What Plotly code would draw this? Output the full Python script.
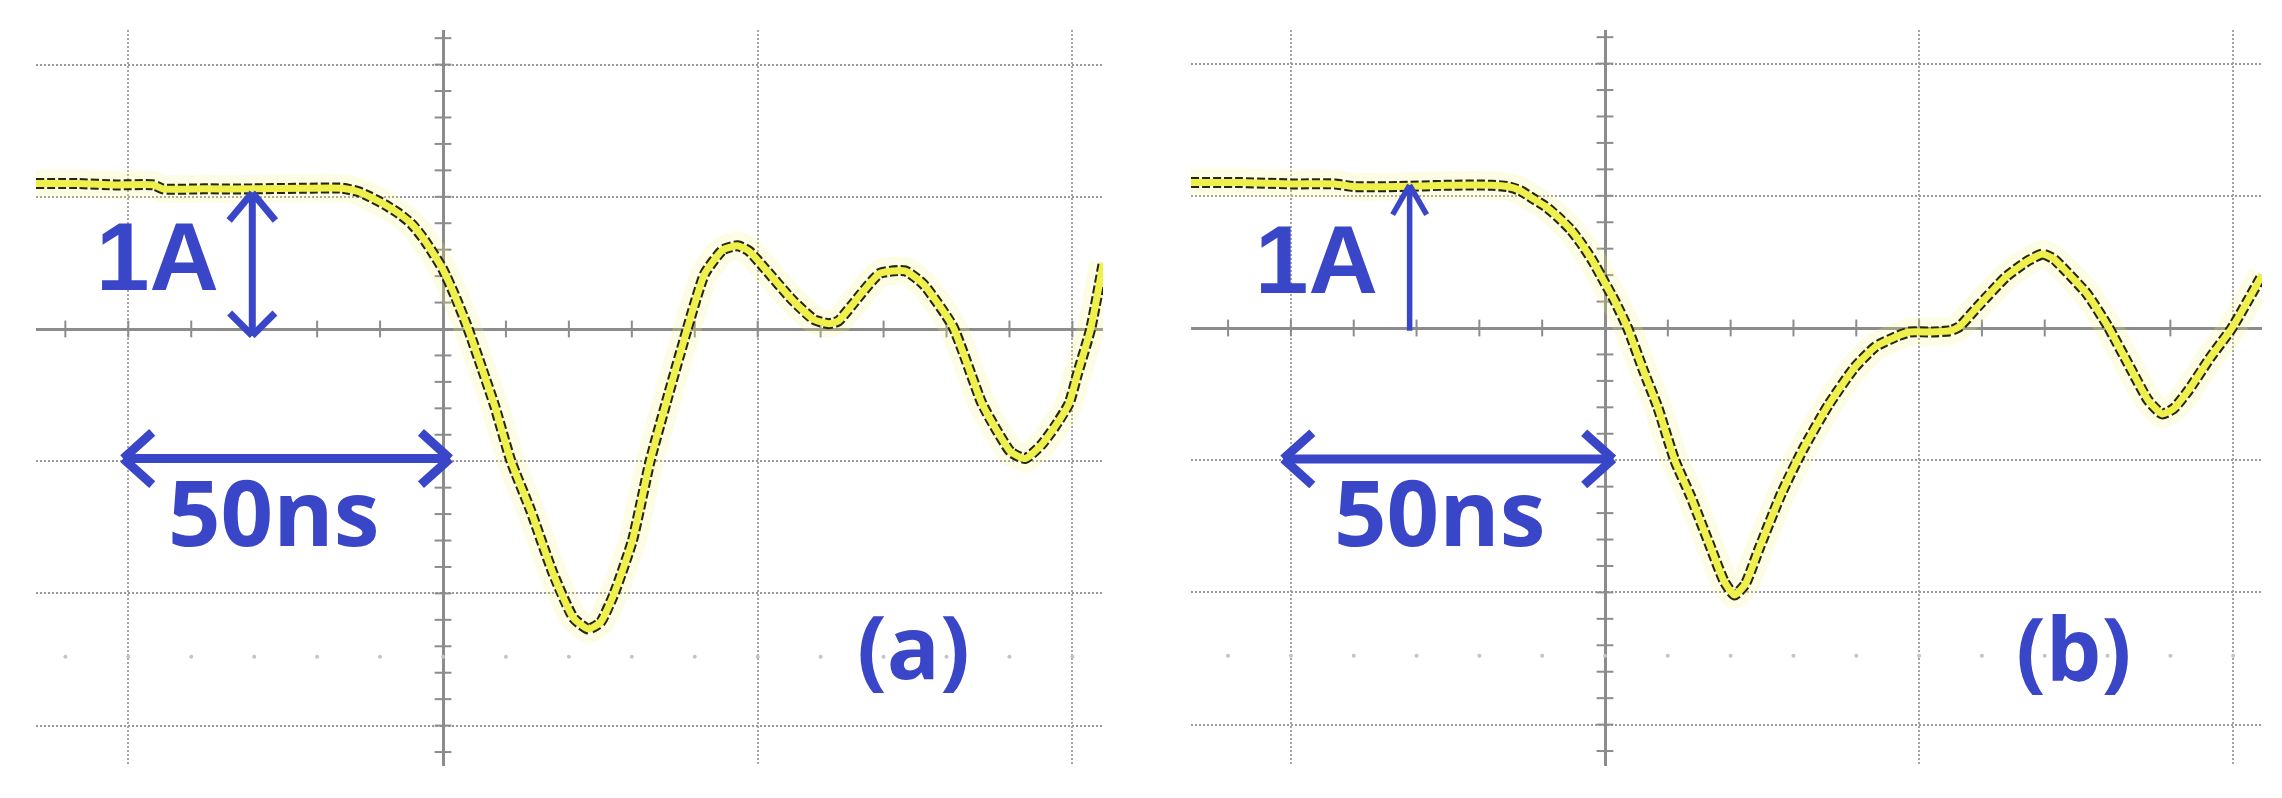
import math
import plotly.graph_objects as go

# ---------------- data ----------------
# Panel (a) waveform: time in ns (0 = centre graticule), current in A
a_time_ns = [-64.7, -58, -52, -46, -44.5, -38, -30, -22, -16, -13.5, -11.6, -9.2, -6.9,
             -4.9, -2.9, -1.4, 0.0, 2.0, 4.0, 6.2, 8.2, 10.8, 13.9, 17.5, 20.8, 23.1,
             25.0, 27.2, 30.1, 32.9, 35.5, 38.8, 41.6, 44.5, 46.8, 48.6, 50.9, 55.5,
             59.0, 61.3, 62.8, 64.8, 69.4, 73.4, 76.3, 81.0, 85.6, 87.9, 90.2, 92.5,
             95.0, 97.2, 99.5, 100.8, 102.9, 104.9]
a_current_A = [1.10, 1.10, 1.09, 1.09, 1.06, 1.06, 1.06, 1.065, 1.065, 1.04, 1.00, 0.94, 0.87,
               0.79, 0.67, 0.56, 0.45, 0.24, 0.00, -0.30, -0.58, -1.00, -1.37, -1.85, -2.19, -2.27,
               -2.22, -2.00, -1.60, -1.00, -0.55, 0.00, 0.42, 0.60, 0.63, 0.59, 0.47, 0.22,
               0.07, 0.04, 0.06, 0.17, 0.42, 0.44, 0.34, 0.02, -0.56, -0.76, -0.93, -0.98,
               -0.88, -0.74, -0.56, -0.34, 0.00, 0.50]

# Panel (b) waveform
b_time_ns = [-65.9, -58, -50, -43, -40, -33, -25, -18, -15.5, -13.5, -11.5, -9.5, -7.5,
             -5.4, -3.5, -2.0, 0.0, 1.6, 3.6, 6.1, 8.4, 11.1, 13.6, 16.5, 19.0, 20.6,
             22.3, 24.6, 28.1, 31.5, 35.6, 39.7, 43.1, 46.6, 48.5, 52.0, 55.0, 56.4,
             59.3, 63.9, 67.4, 69.7, 71.5, 73.2, 76.7, 80.1, 83.6, 86.5, 88.7, 90.5,
             92.9, 96.4, 99.8, 104.6]
b_current_A = [1.10, 1.10, 1.09, 1.09, 1.07, 1.07, 1.08, 1.08, 1.07, 1.04, 0.98, 0.92, 0.84,
               0.74, 0.62, 0.51, 0.34, 0.20, 0.00, -0.32, -0.60, -1.00, -1.27, -1.62, -1.92, -2.02,
               -1.94, -1.66, -1.25, -0.92, -0.58, -0.30, -0.14, -0.06, -0.03, -0.03, -0.02, 0.01,
               0.16, 0.39, 0.51, 0.56, 0.52, 0.44, 0.26, 0.01, -0.30, -0.55, -0.65, -0.61,
               -0.47, -0.22, 0.00, 0.40]

# graticule
major_time_ns = [-50, 0, 50, 100]
major_current_A = [-3, -2, -1, 0, 1, 2]
minor_time_ns = [-60, -50, -40, -30, -20, -10, 0, 10, 20, 30, 40, 50, 60, 70, 80, 90, 100]
minor_current_A = [-3.2, -3.0, -2.8, -2.6, -2.4, -2.2, -2.0, -1.8, -1.6, -1.4, -1.2, -1.0,
                   -0.8, -0.6, -0.4, -0.2, 0.0, 0.2, 0.4, 0.6, 0.8, 1.0, 1.2, 1.4, 1.6,
                   1.8, 2.0, 2.2]
ghost_row_A = -2.48

# scale markers (in data units)
panel_labels = ["(a)", "(b)"]
current_label = "1A"
time_label = "50ns"
a_vert_arrow = dict(x=-30.3, y0=-0.05, y1=1.03, double=True)
b_vert_arrow = dict(x=-31.1, y0=-0.02, y1=1.08, double=False)
a_horiz_arrow = dict(y=-0.98, x0=-50.8, x1=1.1)
b_horiz_arrow = dict(y=-0.99, x0=-51.2, x1=1.3)

# ---------------- layout geometry ----------------
W, H = 2282, 798
BLUE = "#3A46C8"
panels = {
    "a": dict(px=(28, 1095), py=(22, 758), x0=435, y0=321, sx=314.7 / 50, sy=132.2),
    "b": dict(px=(1183, 2254), py=(22, 758), x0=1597, y0=320, sx=314.1 / 50, sy=132.2),
}
for p in panels.values():
    p["xr"] = [(p["px"][0] - p["x0"]) / p["sx"], (p["px"][1] - p["x0"]) / p["sx"]]
    p["yr"] = [(p["y0"] - p["py"][1]) / p["sy"], (p["y0"] - p["py"][0]) / p["sy"]]
    p["xd"] = [p["px"][0] / W, p["px"][1] / W]
    p["yd"] = [1 - p["py"][1] / H, 1 - p["py"][0] / H]

fig = go.Figure()


def chevron(tx, ty, ux, uy, L, ang, p):
    """Open arrow head at (tx,ty); (ux,uy) = unit direction of travel (pixel space, y up)."""
    xs, ys = [], []
    for s in (1, -1):
        a = math.radians(ang) * s
        bx, by = -ux, -uy
        rx = bx * math.cos(a) - by * math.sin(a)
        ry = bx * math.sin(a) + by * math.cos(a)
        xs += [tx + rx * L / p["sx"], tx, None]
        ys += [ty + ry * L / p["sy"], ty, None]
    return xs, ys


def add_panel(key, t, i, xa, ya, varrow, harrow):
    p = panels[key]
    xref, yref = xa.replace("axis", ""), ya.replace("axis", "")
    kw = dict(xaxis=xref, yaxis=yref, showlegend=False, hoverinfo="skip")
    # ghost dot row
    fig.add_trace(go.Scatter(x=minor_time_ns, y=[ghost_row_A] * len(minor_time_ns), mode="markers",
                             marker=dict(size=4, color="#c4c4c4"), **kw))
    # tick marks on centre axes
    tx = [v for v in minor_time_ns if v != 0]
    fig.add_trace(go.Scatter(x=tx, y=[0] * len(tx), mode="markers",
                             marker=dict(symbol="line-ns", size=12, line=dict(width=2, color="#8c8c8c")), **kw))
    fig.add_trace(go.Scatter(x=[0] * len(minor_current_A), y=minor_current_A, mode="markers",
                             marker=dict(symbol="line-ew", size=12, line=dict(width=2, color="#8c8c8c")), **kw))
    # waveform: halo, dark edge, yellow core
    fig.add_trace(go.Scatter(x=t, y=i, mode="lines", line=dict(color="rgba(245,245,130,0.20)", width=28,
                                                                shape="spline", smoothing=0.5), **kw))
    fig.add_trace(go.Scatter(x=t, y=i, mode="lines", line=dict(color="#26260a", width=11, dash="8px,3px",
                                                                shape="spline", smoothing=0.5), **kw))
    fig.add_trace(go.Scatter(x=t, y=i, mode="lines", line=dict(color="#f0f04c", width=7,
                                                                shape="spline", smoothing=0.5), **kw))
    # vertical current arrow
    vx = [varrow["x"], varrow["x"], None]
    vy = [varrow["y0"], varrow["y1"], None]
    if varrow["double"]:
        hx, hy = chevron(varrow["x"], varrow["y1"], 0, 1, 36, 40, p)
        vx += hx; vy += hy
        hx, hy = chevron(varrow["x"], varrow["y0"], 0, -1, 32, 45, p)
        vx += hx; vy += hy
        vw = 7
    else:
        hx, hy = chevron(varrow["x"], varrow["y1"], 0, 1, 34, 30, p)
        vx += hx; vy += hy
        vw = 5.5
    fig.add_trace(go.Scatter(x=vx, y=vy, mode="lines", line=dict(color=BLUE, width=vw), **kw))
    # horizontal time arrow
    hxs = [harrow["x0"], harrow["x1"], None]
    hys = [harrow["y"], harrow["y"], None]
    cx, cy = chevron(harrow["x1"], harrow["y"], 1, 0, 39, 42, p)
    hxs += cx; hys += cy
    cx, cy = chevron(harrow["x0"], harrow["y"], -1, 0, 39, 42, p)
    hxs += cx; hys += cy
    fig.add_trace(go.Scatter(x=hxs, y=hys, mode="lines", line=dict(color=BLUE, width=9), **kw))

    # axes
    common = dict(showticklabels=False, ticks="", showline=False, zeroline=True,
                  zerolinecolor="#8c8c8c", zerolinewidth=2.5, showgrid=True)
    fig.update_layout(**{
        xa: dict(domain=p["xd"], range=p["xr"], tickvals=major_time_ns, gridcolor="#a6a6a6",
                 gridwidth=1.5, griddash="2px,2px", anchor=yref, **common),
        ya: dict(domain=p["yd"], range=p["yr"], tickvals=major_current_A, gridcolor="#9a9a9a",
                 gridwidth=2, griddash="2px,2px", anchor=xref, **common),
    })
    return xref, yref


xa_ref, ya_ref = add_panel("a", a_time_ns, a_current_A, "xaxis", "yaxis", a_vert_arrow, a_horiz_arrow)
xb_ref, yb_ref = add_panel("b", b_time_ns, b_current_A, "xaxis2", "yaxis2", b_vert_arrow, b_horiz_arrow)

annos = []
for xr, yr, lab, pos1a, pos50, posp in [
    (xa_ref, ya_ref, panel_labels[0], (-45.4, 0.55), (-27.0, -1.37), (74.7, -2.39)),
    (xb_ref, yb_ref, panel_labels[1], (-45.9, 0.52), (-26.4, -1.38), (74.5, -2.41)),
]:
    annos.append(dict(xref=xr, yref=yr, x=pos1a[0], y=pos1a[1], text="<b>" + current_label + "</b>",
                      showarrow=False, xanchor="center", yanchor="middle",
                      font=dict(family="Liberation Sans", size=96, color=BLUE)))
    annos.append(dict(xref=xr, yref=yr, x=pos50[0], y=pos50[1], text="<b>" + time_label + "</b>",
                      showarrow=False, xanchor="center", yanchor="middle",
                      font=dict(family="Open Sans", size=92, color=BLUE)))
    annos.append(dict(xref=xr, yref=yr, x=posp[0], y=posp[1], text="<b>" + lab + "</b>",
                      showarrow=False, xanchor="center", yanchor="middle",
                      font=dict(family="Open Sans", size=88, color=BLUE)))

fig.update_layout(width=W, height=H, margin=dict(l=0, r=0, t=0, b=0),
                  paper_bgcolor="white", plot_bgcolor="white", annotations=annos,
                  showlegend=False)
fig.write_html("out.html")
